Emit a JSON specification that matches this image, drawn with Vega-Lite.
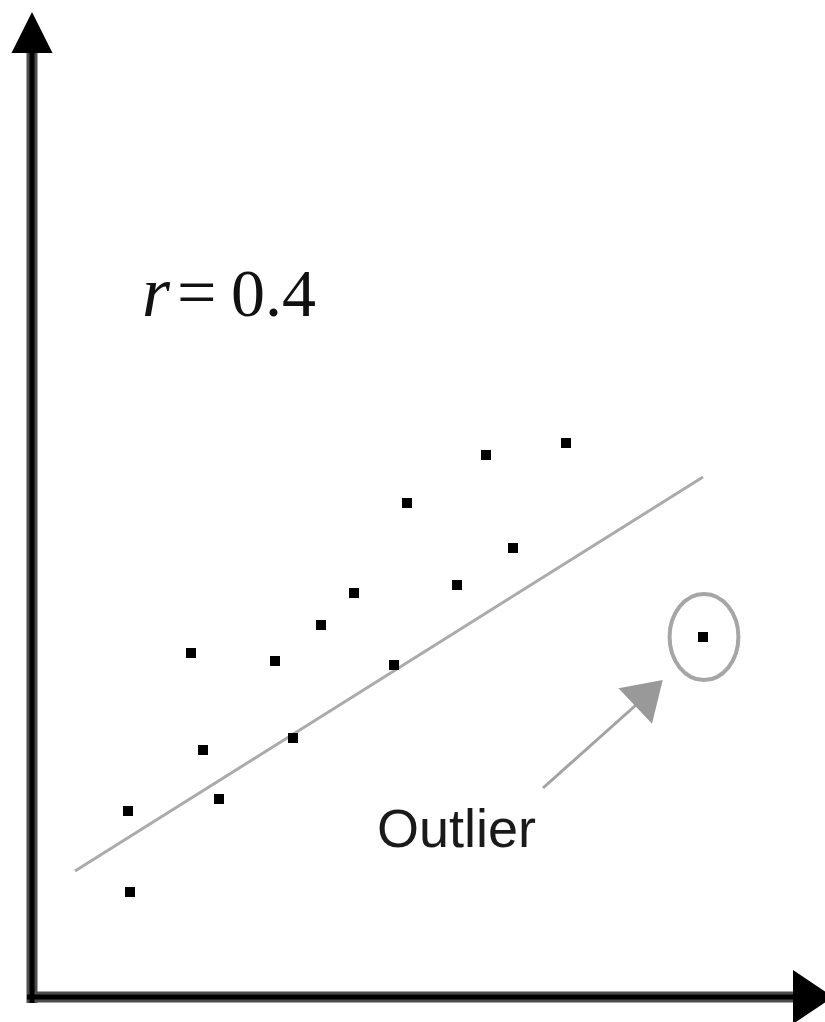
{
  "$schema": "https://vega.github.io/schema/vega-lite/v6.json",
  "width": 825,
  "height": 1022,
  "padding": 0,
  "autosize": {"type": "none"},
  "background": "white",
  "config": {"view": {"stroke": null}},
  "datasets": {
    "axes": [
      {"x": -0.05, "y": 0, "x2": 7.63, "y2": 0},
      {"x": 0, "y": -0.06, "x2": 0, "y2": 9.44}
    ],
    "yhead": [{"x": 0, "y": 9.645}],
    "xhead": [{"x": 7.81, "y": 0}],
    "fit": [{"x": 0.43, "y": 1.26, "x2": 6.71, "y2": 5.2}],
    "outlier_ring": [{"x": 6.72, "y": 3.6}],
    "pointer": [{"x": 5.11, "y": 2.09, "x2": 6.04, "y2": 2.92}],
    "pointer_head": [{"x": 6.17, "y": 3.04}],
    "points": [
      {"x": 0.96, "y": 1.86},
      {"x": 0.98, "y": 1.05},
      {"x": 1.59, "y": 3.44},
      {"x": 1.71, "y": 2.47},
      {"x": 1.87, "y": 1.98},
      {"x": 2.43, "y": 3.36},
      {"x": 2.61, "y": 2.59},
      {"x": 2.89, "y": 3.72},
      {"x": 3.22, "y": 4.04},
      {"x": 3.62, "y": 3.32},
      {"x": 3.75, "y": 4.94},
      {"x": 4.25, "y": 4.12},
      {"x": 4.54, "y": 5.42},
      {"x": 4.81, "y": 4.49},
      {"x": 5.34, "y": 5.54},
      {"x": 6.71, "y": 3.6}
    ],
    "r_label": [{"x": 1.1, "y": 6.81, "label": "r"}],
    "eq_label": [{"x": 1.45, "y": 6.81, "label": "="}],
    "val_label": [{"x": 1.99, "y": 6.81, "label": "0.4"}],
    "outlier_label": [{"x": 3.45, "y": 1.5, "label": "Outlier"}]
  },
  "encoding": {
    "x": {"field": "x", "type": "quantitative", "scale": {"domain": [-0.32, 7.93], "nice": false, "zero": false}, "axis": null},
    "y": {"field": "y", "type": "quantitative", "scale": {"domain": [-0.25, 9.97], "nice": false, "zero": false}, "axis": null}
  },
  "layer": [
    {
      "data": {"name": "axes"},
      "mark": {"type": "rule", "color": "#4d4d4d", "strokeWidth": 11},
      "encoding": {"x2": {"field": "x2"}, "y2": {"field": "y2"}}
    },
    {
      "data": {"name": "axes"},
      "mark": {"type": "rule", "color": "#000000", "strokeWidth": 5},
      "encoding": {"x2": {"field": "x2"}, "y2": {"field": "y2"}}
    },
    {
      "data": {"name": "yhead"},
      "mark": {"type": "point", "shape": "M0,-1L1,1L-1,1Z", "size": 1681, "filled": true, "color": "#000000", "opacity": 1}
    },
    {
      "data": {"name": "xhead"},
      "mark": {"type": "point", "shape": "M0,-1L1.35,1L-1.35,1Z", "angle": 90, "size": 1600, "filled": true, "color": "#000000", "opacity": 1}
    },
    {
      "data": {"name": "fit"},
      "mark": {"type": "rule", "color": "#ababab", "strokeWidth": 3},
      "encoding": {"x2": {"field": "x2"}, "y2": {"field": "y2"}}
    },
    {
      "data": {"name": "outlier_ring"},
      "mark": {"type": "point", "shape": "M-0.8,0A0.8,1,0,1,0,0.8,0A0.8,1,0,1,0,-0.8,0Z", "size": 7396, "filled": false, "color": "#a6a6a6", "strokeWidth": 4, "opacity": 1}
    },
    {
      "data": {"name": "pointer"},
      "mark": {"type": "rule", "color": "#a3a3a3", "strokeWidth": 3},
      "encoding": {"x2": {"field": "x2"}, "y2": {"field": "y2"}}
    },
    {
      "data": {"name": "pointer_head"},
      "mark": {"type": "point", "shape": "M0,-1L1.29,1L-1.29,1Z", "angle": 46.6, "size": 1429, "filled": true, "color": "#999999", "opacity": 1}
    },
    {
      "data": {"name": "points"},
      "mark": {"type": "point", "shape": "square", "size": 100, "filled": true, "color": "#000000", "opacity": 1}
    },
    {
      "data": {"name": "r_label"},
      "mark": {"type": "text", "align": "left", "baseline": "alphabetic", "font": "Liberation Serif", "fontStyle": "italic", "fontSize": 72, "color": "#111111"},
      "encoding": {"text": {"field": "label"}}
    },
    {
      "data": {"name": "eq_label"},
      "mark": {"type": "text", "align": "left", "baseline": "alphabetic", "font": "Liberation Serif", "fontSize": 70, "color": "#111111"},
      "encoding": {"text": {"field": "label"}}
    },
    {
      "data": {"name": "val_label"},
      "mark": {"type": "text", "align": "left", "baseline": "alphabetic", "font": "Liberation Serif", "fontSize": 68, "color": "#111111"},
      "encoding": {"text": {"field": "label"}}
    },
    {
      "data": {"name": "outlier_label"},
      "mark": {"type": "text", "align": "left", "baseline": "alphabetic", "font": "Liberation Sans", "fontSize": 54, "color": "#1a1a1a"},
      "encoding": {"text": {"field": "label"}}
    }
  ]
}
